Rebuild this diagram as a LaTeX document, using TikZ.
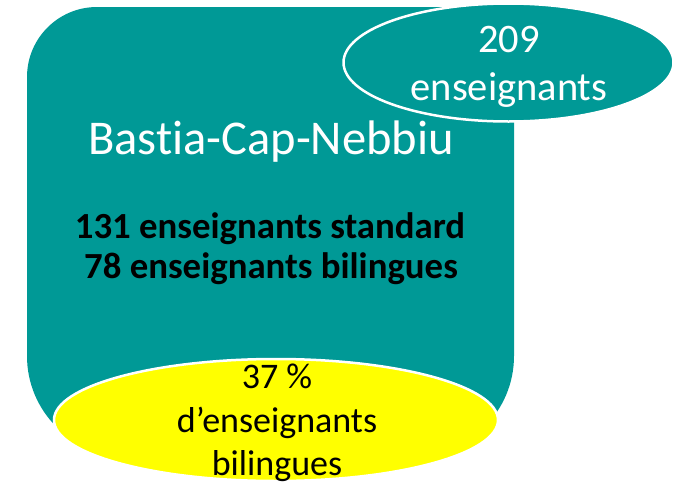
\documentclass[tikz,border=0pt]{standalone}
\usepackage{fontspec}
\setmainfont{Carlito}[RawFeature={-liga;-clig;-dlig}]
\usetikzlibrary{shapes.geometric}
\definecolor{teal1}{RGB}{0,153,150}
\definecolor{yel}{RGB}{255,255,0}
\begin{document}
\begin{tikzpicture}[x=1pt,y=-1pt,
  oval/.style={ellipse, draw=white, line width=2.5pt, inner sep=0pt},
  lbl/.style={anchor=base, inner sep=0pt},
  bigw/.style={lbl, text=white, font=\fontsize{40.5}{48}\selectfont},
  titlef/.style={lbl, text=white, font=\fontsize{48.5}{58}\selectfont},
  boldf/.style={lbl, text=black, font=\bfseries\fontsize{36.8}{44}\selectfont},
  yelf/.style={lbl, text=black, font=\fontsize{36}{43}\selectfont}]
\useasboundingbox (0,0) rectangle (691,501);
\fill[teal1] (27,77) .. controls (27,38.34) and (58.34,7) .. (97,7) -- (444,7)
  .. controls (482.66,7) and (514,38.34) .. (514,77) -- (514,356)
  .. controls (514,411.23) and (469.23,456) .. (414,456) -- (127,456)
  .. controls (71.77,456) and (27,411.23) .. (27,356) -- cycle;
\node[oval, fill=teal1, minimum width=330, minimum height=118] (tot) at (508.5,62.5) {};
\node[oval, fill=yel, minimum width=444, minimum height=122] (pct) at (276,420) {};
\node[bigw] (n209) at (509,52) {209};
\node[bigw] (ens) at (509,100) {enseignants};
\node[titlef] (title) at (271,154) {Bast\kern0pt ia-Cap-Nebbiu};
\node[boldf] (std) at (270,238) {131 enseignants standard};
\node[boldf] (bil) at (271,278) {78 enseignants bilingues};
\node[yelf] (p37) at (277,388) {37 \%};
\node[yelf] (dens) at (277,432) {d’enseignants};
\node[yelf] (bling) at (277,475) {bilingues};
\end{tikzpicture}
\end{document}
